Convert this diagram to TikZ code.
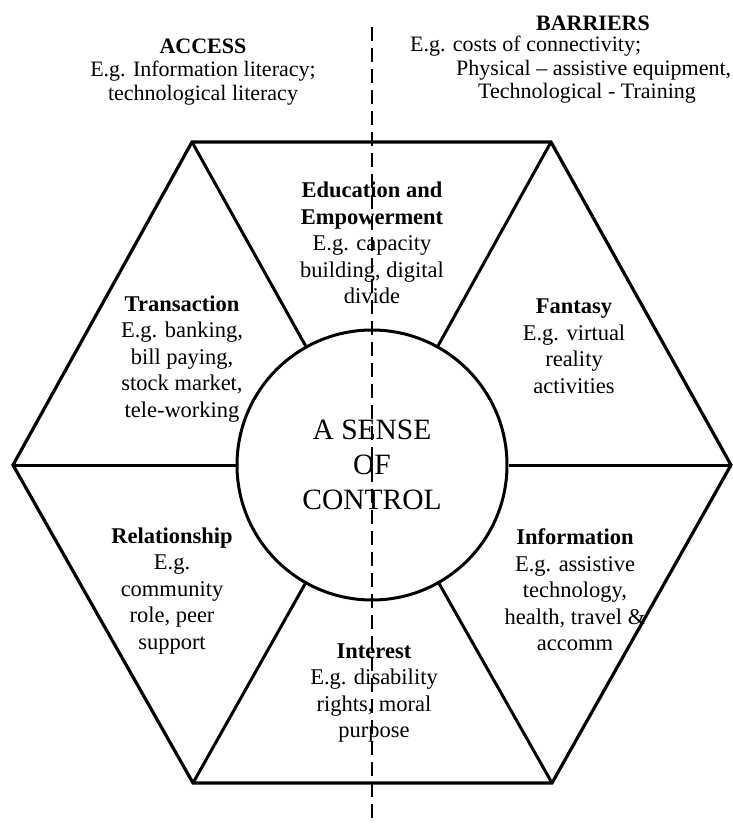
\documentclass[tikz,border=0pt]{standalone}
\usepackage{fontspec}
\setmainfont{Liberation Serif}
\begin{document}
\begin{tikzpicture}[x=1pt,y=-1pt,
  frame/.style={line width=3.2pt,line join=miter},
  spoke/.style={line width=3pt},
  divider/.style={line width=2pt,dash pattern=on 14pt off 7pt},
  segtext/.style={align=center,inner sep=0pt,font=\fontsize{22.5}{26.5}\selectfont},
  toptext/.style={inner sep=0pt,font=\fontsize{22}{23.5}\selectfont},
  hub/.style={circle,draw,line width=3pt,minimum size=270pt,inner sep=0pt,
    align=center,font=\fontsize{29.5}{35}\selectfont}]
\useasboundingbox (0,0) rectangle (733,825);

% hexagon corners
\coordinate (hl) at (13,465);
\coordinate (htl) at (192,142);
\coordinate (htr) at (551,142);
\coordinate (hr) at (731,465);
\coordinate (hbr) at (552,783);
\coordinate (hbl) at (193,783);

% vertical divider
\coordinate (dtop) at (372,27);
\coordinate (dbot) at (372,825);
\draw[divider] (dtop) -- (dbot);

% outer hexagon
\draw[frame] (hl) -- (htl) -- (htr) -- (hr) -- (hbr) -- (hbl) -- cycle;

% central circle
\node[hub] (core) at (372,465) {A SENSE\\OF\\CONTROL};

% spokes from corners to the circle
\foreach \c in {hl,htl,htr,hr,hbr,hbl}
  \draw[spoke] (\c) -- (core);

% segment labels
\node[segtext] (edu) at (372,243) {\textbf{Education and}\\\textbf{Empowerment}\\E.g. capacity\\building, digital\\divide};
\node[segtext] (trans) at (182,359) {\textbf{Transaction}\\E.g. banking,\\bill paying,\\stock market,\\tele-working};
\node[segtext] (fant) at (574,346) {\textbf{Fantasy}\\E.g. virtual\\reality\\activities};
\node[segtext] (rel) at (172,591) {\textbf{Relationship}\\E.g.\\community\\role, peer\\support};
\node[segtext] (info) at (575,590) {\textbf{Information}\\E.g. assistive\\technology,\\health, travel \&\\accomm};
\node[segtext] (intr) at (374,693) {\textbf{Interest}\\E.g. disability\\rights, moral\\purpose};

% headings above the hexagon
\node[toptext,align=center] (access) at (203,72) {\textbf{ACCESS}\\E.g. Information literacy;\\technological literacy};
\node[toptext] (barr) at (593,23) {\textbf{BARRIERS}};
\node[toptext,align=left,anchor=north west] (barrtxt) at (410,36) {E.g. costs of connectivity;\\\hspace*{46pt}Physical -- assistive equipment,\\\hspace*{68pt}Technological - Training};
\end{tikzpicture}
\end{document}
